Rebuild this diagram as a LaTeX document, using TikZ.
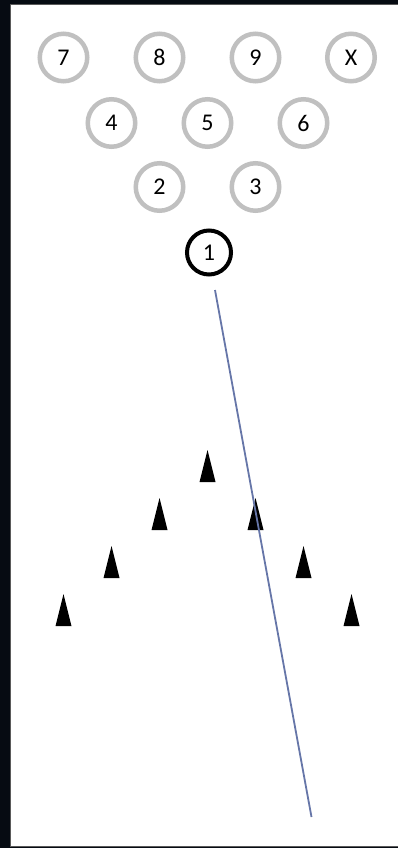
\documentclass[tikz,border=0pt]{standalone}
\usepackage{fontspec}
\setmainfont{Carlito}
\usetikzlibrary{positioning}
\definecolor{backdrop}{HTML}{060B12}
\definecolor{laneedge}{HTML}{5A5A5A}
\definecolor{pingray}{HTML}{C0C0C0}
\definecolor{balline}{HTML}{6676A8}

\tikzset{
  pin/.style={circle,draw=pingray,line width=4.5pt,minimum size=47.5pt,inner sep=0pt,
    font=\fontsize{24}{26}\selectfont},
  headpin/.style={pin,draw=black,line width=4pt,minimum size=44pt},
  ballpath/.style={draw=balline,line width=1.8pt},
}

\begin{document}
\begin{tikzpicture}[x=1pt,y=-1pt]
  \useasboundingbox (0,0) rectangle (398,848);
  \fill[backdrop] (0,0) rectangle (398,848);
  \fill[white,draw=laneedge,line width=1.2pt] (10.5,4.5) rectangle (400,846.5);
  % pins
  \node[pin] (p7) at (63.5,57.5) {7};
  \node[pin] (p8) at (159.5,57.5) {8};
  \node[pin] (p9) at (255.5,57.5) {9};
  \node[pin] (p10) at (351,57.5) {X};
  \node[pin] (p4) at (111.5,123) {4};
  \node[pin] (p5) at (207.5,123) {5};
  \node[pin] (p6) at (303.5,123) {6};
  \node[pin] (p2) at (159.5,187) {2};
  \node[pin] (p3) at (255.5,187) {3};
  \node[headpin] (p1) at (209,252.5) {1};
  % target arrows
  \foreach \ax/\ay in {207.5/450,159.5/498,255.5/498,111.5/546,303.5/546,63.5/594,351.5/594}
    \fill[black] (\ax,\ay) -- (\ax+8,\ay+32) -- (\ax-8,\ay+32) -- cycle;
  % ball line
  \coordinate (release) at (215,290);
  \coordinate (finish) at (311.5,817);
  \draw[ballpath] (release) -- (finish);
\end{tikzpicture}
\end{document}
